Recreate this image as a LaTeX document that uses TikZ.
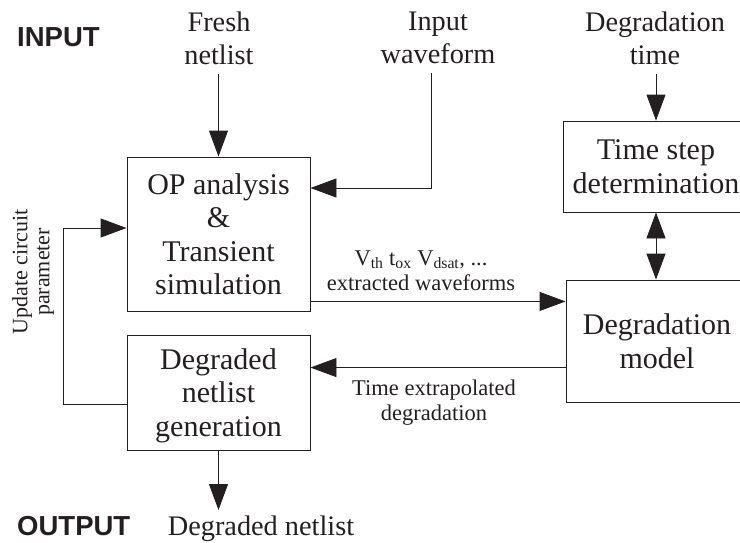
\documentclass[tikz,border=0pt]{standalone}
\usepackage{fontspec}
\setmainfont{Liberation Serif}
\newfontfamily\hdfont{Liberation Sans}
\usetikzlibrary{arrows.meta}
\definecolor{ink}{RGB}{35,31,32}
\tikzset{
  box/.style={draw=ink, line width=0.9pt, align=center, inner sep=0pt,
    font=\fontsize{30}{33.5}\selectfont, text=ink},
  toplbl/.style={align=center, inner sep=9pt, font=\fontsize{28.3}{33}\selectfont, text=ink},
  smlbl/.style={align=center, inner sep=0pt, font=\fontsize{22.5}{25}\selectfont, text=ink},
  head/.style={inner sep=0pt, font=\hdfont\bfseries\fontsize{27.5}{33}\selectfont, text=ink},
  arr/.style={draw=ink, line width=0.9pt, -{Triangle[length=26pt,width=19pt]}},
  arrtwo/.style={draw=ink, line width=0.9pt, {Triangle[length=26pt,width=19pt]}-{Triangle[length=26pt,width=19pt]}},
  conn/.style={draw=ink, line width=0.9pt}
}
\begin{document}
\begin{tikzpicture}[x=1pt,y=-1pt]
\useasboundingbox (0,0) rectangle (740,542);
\clip (0,0) rectangle (740,542);
% headings
\node[head, anchor=base west] (inp) at (17,46) {INPUT};
\node[head, anchor=base west] (outp) at (17,535) {OUTPUT};
% top labels
\node[toplbl] (fresh) at (219,38) {Fresh\\netlist};
\node[toplbl] (wave) at (438,38) {Input\\waveform};
\node[toplbl] (dtime) at (655,38) {Degradation\\time};
% boxes
\node[box, minimum width=183pt, minimum height=154pt] (op) at (218.5,234) {OP analysis\\\&\\Transient\\simulation};
\node[box, minimum width=183pt, minimum height=115pt] (dg) at (218.5,392.5) {\rule{0pt}{27pt}Degraded\\netlist\\generation};
\node[box, minimum width=186pt, minimum height=91pt] (ts) at (656,166.5) {Time step\\determination};
\node[box, minimum width=182pt, minimum height=122pt] (dm) at (657,341) {Degradation\\model};
% output label
\node[toplbl, inner sep=0pt, anchor=base] (dnet) at (261,535) {Degraded netlist};
% small labels
\node[smlbl, anchor=base] (vth) at (421,265) {V\textsubscript{th} t\textsubscript{ox} V\textsubscript{dsat}, ...};
\node[smlbl, anchor=base] (ext) at (421,290) {extracted waveforms};
\node[smlbl] (tex) at (434,403) {Time extrapolated\\degradation};
\node[smlbl, rotate=90, font=\fontsize{22}{22}\selectfont] (upd) at (33,272) {Update circuit\\parameter};
% connectors
\draw[arr] (op.north |- fresh.south) -- (op.north);
\coordinate (wcorner) at (431,188);
\draw[arr] (wave.south -| wcorner) -- (wcorner) -- (op.east |- wcorner);
\draw[arr] (ts.north |- dtime.south) -- (ts.north);
\draw[arrtwo] (ts.south) -- (ts.south |- dm.north);
\draw[arr] ([yshift=10pt]op.south east) -- ([yshift=10pt]op.south east -| dm.west);
\draw[arr] ([yshift=-33pt]dg.north east -| dm.west) -- ([yshift=-33pt]dg.north east);
\coordinate (fb1) at (63,404);
\coordinate (fb2) at (63,228);
\draw[arr] (dg.west |- fb1) -- (fb1) -- (fb2) -- (op.west |- fb2);
\draw[arr] (dg.south) -- (dg.south |- 0,510);
\end{tikzpicture}
\end{document}
